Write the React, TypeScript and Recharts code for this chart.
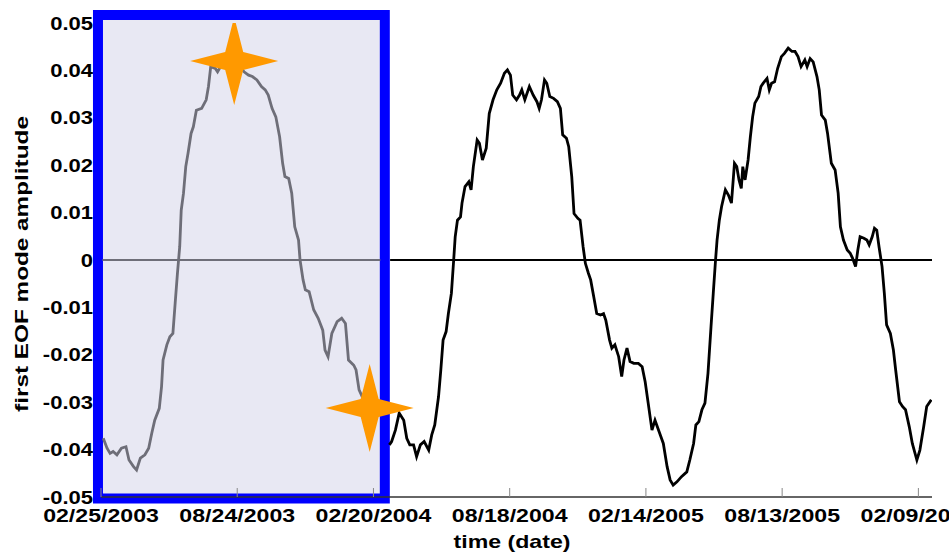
import React from "react";
import {
  ComposedChart,
  Line,
  Scatter,
  XAxis,
  YAxis,
  ReferenceArea,
  ReferenceLine,
} from "recharts";

// x axis runs in days since 02/25/2003
const DATE_TICKS = [0, 180, 360, 540, 720, 900, 1080];
const DATE_LABELS = [
  "02/25/2003",
  "08/24/2003",
  "02/20/2004",
  "08/18/2004",
  "02/14/2005",
  "08/13/2005",
  "02/09/2006",
];
const AMP_TICKS = [0.05, 0.04, 0.03, 0.02, 0.01, 0, -0.01, -0.02, -0.03, -0.04, -0.05];

const DAYS = [
  3, 8, 12, 16, 21, 27, 33, 37, 43, 47, 52, 58, 63, 67, 71, 77, 80, 82, 87, 91,
  95, 98, 101, 104, 106, 109, 112, 115, 119, 122, 126, 133, 139, 142, 145, 151, 154, 158, 164, 175,
  184, 189, 195, 200, 206, 212, 217, 221, 226, 231, 236, 240, 243, 248, 252, 256, 261, 263, 267, 270,
  275, 281, 287, 293, 296, 300, 305, 312, 318, 323, 327, 334, 337, 341, 347, 353, 364, 368,
  381, 384, 389, 394, 400, 404, 408, 413, 417, 422, 427, 433, 437, 441, 446, 449, 452, 456, 459, 463,
  466, 468, 471, 475, 477, 481, 486, 489, 492, 497, 500, 504, 509, 513, 518, 523, 528, 533, 537, 541,
  544, 549, 553, 556, 560, 566, 571, 576, 579, 582, 586, 589, 593, 598, 603, 607, 610, 615, 618, 622,
  625, 630, 633, 637, 640, 644, 647, 651, 655, 660, 664, 667, 672, 675, 679, 684, 688, 691, 695, 699,
  704, 710, 715, 719, 723, 728, 732, 739, 743, 748, 752, 756, 761, 767, 774, 778, 783, 786, 790, 794,
  798, 802, 806, 809, 812, 814, 817, 820, 825, 829, 833, 837, 840, 843, 846, 848, 851, 855, 858, 861,
  864, 869, 872, 875, 880, 883, 886, 890, 894, 899, 903, 908, 913, 917, 921, 925, 930, 933, 937, 941,
  946, 949, 952, 957, 960, 965, 970, 974, 977, 981, 986, 990, 993, 997, 1000, 1003, 1008, 1012, 1015, 1019,
  1022, 1025, 1028, 1032, 1035, 1038, 1043, 1047, 1050, 1055, 1059, 1063, 1068, 1072, 1078, 1082, 1087, 1091, 1097,
];

const AMPLITUDE = [
  -0.0376, -0.0397, -0.0408, -0.0404, -0.0411, -0.0397, -0.0394, -0.0422, -0.0436, -0.0443, -0.0418, -0.0411, -0.0397, -0.0366, -0.0338, -0.0313, -0.0267, -0.0211, -0.0179, -0.0162,
  -0.0155, -0.0091, -0.0028, 0.0028, 0.0105, 0.0141, 0.0197, 0.0225, 0.0267, 0.0281, 0.0316, 0.032, 0.0338, 0.0366, 0.0408, 0.0404, 0.0397, 0.0408, 0.0411, 0.0415,
  0.0408, 0.0397, 0.039, 0.0387, 0.038, 0.0366, 0.0359, 0.0348, 0.032, 0.0302, 0.026, 0.0204, 0.0176, 0.0172, 0.0141, 0.007, 0.0042, 0.0, -0.0042, -0.0063,
  -0.0067, -0.0105, -0.0123, -0.0148, -0.019, -0.0204, -0.0155, -0.013, -0.0123, -0.0134, -0.0211, -0.0222, -0.0232, -0.0274, -0.0295, -0.0295, -0.0302, -0.0304,
  -0.039, -0.0383, -0.0359, -0.0323, -0.0338, -0.0376, -0.039, -0.039, -0.0415, -0.039, -0.0383, -0.0401, -0.0369, -0.0348, -0.0288, -0.0232, -0.0169, -0.0151, -0.0113, -0.007,
  0.0, 0.0049, 0.0084, 0.0091, 0.012, 0.0155, 0.0165, 0.0148, 0.0197, 0.0253, 0.0246, 0.0211, 0.0236, 0.0309, 0.0338, 0.0359, 0.0373, 0.0394, 0.0401, 0.039,
  0.0348, 0.0338, 0.0348, 0.0359, 0.0338, 0.0366, 0.0348, 0.0334, 0.032, 0.0338, 0.038, 0.0373, 0.0345, 0.0341, 0.0334, 0.032, 0.0264, 0.0257, 0.0239, 0.0176,
  0.0098, 0.0088, 0.0084, 0.0028, -0.0007, -0.0028, -0.0042, -0.0077, -0.0113, -0.0116, -0.0113, -0.0127, -0.0169, -0.0186, -0.0179, -0.0204, -0.0246, -0.0211, -0.0186, -0.0214,
  -0.0218, -0.0218, -0.0225, -0.0257, -0.0302, -0.0359, -0.0338, -0.0369, -0.0387, -0.0436, -0.0464, -0.0475, -0.0468, -0.0457, -0.0447, -0.0422, -0.0387, -0.0348, -0.0341, -0.0316,
  -0.0302, -0.0239, -0.0141, -0.007, 0.0, 0.0042, 0.0084, 0.0113, 0.0148, 0.0137, 0.012, 0.0204, 0.0197, 0.0169, 0.0151, 0.0197, 0.0169, 0.0211, 0.026, 0.0302,
  0.0331, 0.0345, 0.0366, 0.0373, 0.0383, 0.0359, 0.0373, 0.0376, 0.0404, 0.0429, 0.0436, 0.0447, 0.044, 0.044, 0.0429, 0.0408, 0.0422, 0.0408, 0.0425, 0.0418,
  0.0387, 0.0359, 0.0306, 0.0295, 0.0267, 0.0204, 0.019, 0.0141, 0.007, 0.0042, 0.0021, 0.0014, 0.0004, -0.0014, 0.0021, 0.0049, 0.0046, 0.0042, 0.0032, 0.0049,
  0.0067, 0.0063, 0.0028, -0.0014, -0.007, -0.0137, -0.0155, -0.019, -0.0232, -0.0299, -0.0309, -0.0316, -0.0352, -0.0387, -0.0422, -0.0401, -0.0352, -0.0309, -0.0295,
];

// highlighted first year (box) and the two marked points
const HIGHLIGHT_DAYS = [-4, 375];
const HIGHLIGHT_AMP = [-0.0503, 0.0517];
const STAR_DAYS = [176, 355];
const STAR_AMP = [0.042, -0.0312];

const FONT = '"Liberation Sans", Arial, sans-serif';
const GREY = "#6e6e78";

const chartData = DAYS.map((day, i) => ({
  day,
  early: day <= HIGHLIGHT_DAYS[1] ? AMPLITUDE[i] : null,
  late: day > HIGHLIGHT_DAYS[1] ? AMPLITUDE[i] : null,
}));

const starData = STAR_DAYS.map((day, i) => ({ day, star: STAR_AMP[i] }));

function DateTick({ x, y, payload }: any) {
  const label = DATE_LABELS[DATE_TICKS.indexOf(payload.value)] ?? "";
  return (
    <g>
      <line x1={x} x2={x} y1={y} y2={y - 9} stroke="#888" strokeWidth={1} />
      <g transform={`translate(${x},${y + 25}) scale(1.25,1)`}>
        <text textAnchor="middle" fontFamily={FONT} fontWeight="bold" fontSize={18.5} fill="#000">
          {label}
        </text>
      </g>
    </g>
  );
}

function AmpTick({ x, y, payload }: any) {
  const v = payload.value as number;
  const label = Math.abs(v) < 1e-9 ? "0" : v.toFixed(2);
  return (
    <g transform={`translate(${x - 8},${y}) scale(1.19,1)`}>
      <text textAnchor="end" dy="0.36em" fontFamily={FONT} fontWeight="bold" fontSize={18.5} fill="#000">
        {label}
      </text>
    </g>
  );
}

function StarShape({ cx, cy }: any) {
  return (
    <path
      transform={`translate(${cx},${cy})`}
      d="M0,-44 L9,-9 L44,0 L9,9 L0,44 L-9,9 L-44,0 L-9,-9 Z"
      fill="#ff9900"
    />
  );
}

export default function App() {
  return (
    <div style={{ position: "absolute", left: 0, top: 0, width: 949, height: 554, overflow: "hidden", background: "#fff" }}>
      <ComposedChart
        width={949}
        height={554}
        data={chartData}
        margin={{ top: 23, right: 17, left: 0, bottom: 0 }}
      >
        <XAxis
          dataKey="day"
          type="number"
          domain={[0, 1098]}
          allowDataOverflow
          ticks={DATE_TICKS}
          interval={0}
          height={57}
          tickSize={0}
          tickMargin={0}
          tickLine={false}
          axisLine={{ stroke: "#333", strokeWidth: 1.5 }}
          tick={<DateTick />}
          label={{
            content: () => (
              <g transform="translate(512,548) scale(1.25,1)">
                <text textAnchor="middle" fontFamily={FONT} fontWeight="bold" fontSize={18.5} fill="#000">
                  time (date)
                </text>
              </g>
            ),
          }}
        />
        <YAxis
          type="number"
          domain={[-0.05, 0.05]}
          allowDataOverflow
          ticks={AMP_TICKS}
          interval={0}
          width={101}
          tickSize={0}
          tickMargin={0}
          tickLine={false}
          axisLine={false}
          tick={<AmpTick />}
          label={{
            content: () => (
              <g transform="translate(28,264) rotate(-90) scale(1.28,1)">
                <text textAnchor="middle" fontFamily={FONT} fontWeight="bold" fontSize={19} fill="#000">
                  first EOF mode amplitude
                </text>
              </g>
            ),
          }}
        />
        <ReferenceArea
          x1={HIGHLIGHT_DAYS[0]}
          x2={HIGHLIGHT_DAYS[1]}
          y1={HIGHLIGHT_AMP[0]}
          y2={HIGHLIGHT_AMP[1]}
          ifOverflow="visible"
          fill="#e8e8f3"
          fillOpacity={1}
          stroke="none"
        />
        <ReferenceLine
          segment={[{ x: 2, y: 0 }, { x: 369, y: 0 }]}
          stroke={GREY}
          strokeWidth={2}
          ifOverflow="visible"
        />
        <ReferenceLine
          segment={[{ x: 382, y: 0 }, { x: 1098, y: 0 }]}
          stroke="#000"
          strokeWidth={2}
          ifOverflow="visible"
        />
        <Line
          dataKey="early"
          type="linear"
          stroke={GREY}
          strokeWidth={2.8}
          dot={false}
          activeDot={false}
          connectNulls={false}
          isAnimationActive={false}
        />
        <Line
          dataKey="late"
          type="linear"
          stroke="#000"
          strokeWidth={2.8}
          dot={false}
          activeDot={false}
          connectNulls={false}
          isAnimationActive={false}
        />
        <ReferenceArea
          x1={HIGHLIGHT_DAYS[0]}
          x2={HIGHLIGHT_DAYS[1]}
          y1={HIGHLIGHT_AMP[0]}
          y2={HIGHLIGHT_AMP[1]}
          ifOverflow="visible"
          fill="none"
          fillOpacity={0}
          stroke="#0000ff"
          strokeWidth={10}
        />
        <Scatter data={starData} dataKey="star" shape={<StarShape />} isAnimationActive={false} />
      </ComposedChart>
    </div>
  );
}
